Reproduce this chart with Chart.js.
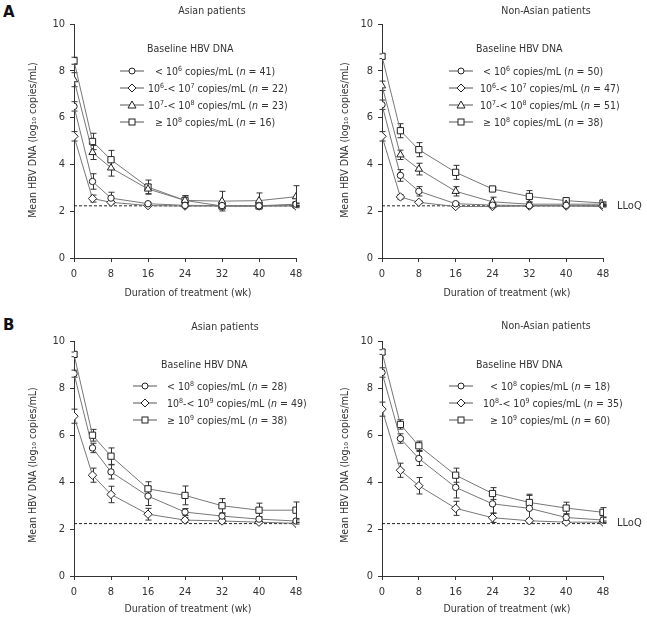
<!DOCTYPE html>
<html>
<head>
<meta charset="utf-8">
<script src="https://cdn.jsdelivr.net/npm/chart.js@4.4.1/dist/chart.umd.min.js"></script>
<style>
  body { margin: 0; background: #fff; }
  #fig { position: relative; width: 647px; height: 620px; background: #fff; overflow: hidden;
         font-family: "DejaVu Sans Condensed", "DejaVu Sans", sans-serif; color: #333; }
  #fig canvas { position: absolute; }
  .txt { position: absolute; white-space: nowrap; font-size: 10.5px; line-height: 12px; }
  .ctr { transform: translateX(-50%); }
  .ytitle { position: absolute; white-space: nowrap; font-size: 10.5px; line-height: 12px;
            transform: translate(-50%, -50%) rotate(-90deg); }
  .panel { position: absolute; font-weight: bold; font-size: 15px; color: #111;
           font-family: "DejaVu Sans", sans-serif; }
  .legend { position: absolute; font-size: 10.5px; }
  .legend .row { position: absolute; height: 14px; white-space: nowrap; }
  .legend svg { position: absolute; top: 1px; }
  .legend .lbl { position: absolute; top: 0; line-height: 14px; }
  sup { font-size: 7px; vertical-align: 4px; line-height: 0; }
</style>
</head>
<body>
<div id="fig">
  <div class="panel" style="left:3px;top:3px;">A</div>
  <div class="panel" style="left:3px;top:316px;">B</div>

  <canvas id="cA1" width="320" height="300" style="left:0;top:0;"></canvas>
  <canvas id="cA2" width="327" height="300" style="left:320px;top:0;"></canvas>
  <canvas id="cB1" width="320" height="320" style="left:0;top:300px;"></canvas>
  <canvas id="cB2" width="327" height="320" style="left:320px;top:300px;"></canvas>

  <div class="txt ctr" style="left:212px;top:4px;">Asian patients</div>
  <div class="txt ctr" style="left:546px;top:4px;">Non-Asian patients</div>
  <div class="txt ctr" style="left:225px;top:320px;">Asian patients</div>
  <div class="txt ctr" style="left:546px;top:319px;">Non-Asian patients</div>

  <div class="txt ctr" style="left:188px;top:286px;">Duration of treatment (wk)</div>
  <div class="txt ctr" style="left:507px;top:286px;">Duration of treatment (wk)</div>
  <div class="txt ctr" style="left:188px;top:602px;">Duration of treatment (wk)</div>
  <div class="txt ctr" style="left:507px;top:602px;">Duration of treatment (wk)</div>

  <div class="ytitle" style="left:32px;top:140px;">Mean HBV DNA (log₁₀ copies/mL)</div>
  <div class="ytitle" style="left:344px;top:140px;">Mean HBV DNA (log₁₀ copies/mL)</div>
  <div class="ytitle" style="left:32px;top:465px;">Mean HBV DNA (log₁₀ copies/mL)</div>
  <div class="ytitle" style="left:344px;top:465px;">Mean HBV DNA (log₁₀ copies/mL)</div>

  <div class="txt" style="left:147px;top:42px;">Baseline HBV DNA</div>
  <div class="txt" style="left:476px;top:42px;">Baseline HBV DNA</div>
  <div class="txt" style="left:161px;top:358px;">Baseline HBV DNA</div>
  <div class="txt" style="left:476px;top:358px;">Baseline HBV DNA</div>

  <div class="legend" id="legA1"></div>
  <div class="legend" id="legA2"></div>
  <div class="legend" id="legB1"></div>
  <div class="legend" id="legB2"></div>
</div>

<script>
// x values: weeks of treatment
const weeks = [0, 4, 8, 16, 24, 32, 40, 48];
const xTicks = [0, 8, 16, 24, 32, 40, 48];
const yTicks = [0, 2, 4, 6, 8, 10];
const lloq = 2.23;

// A, Asian patients
const aAsianLt6 = [6.48, 3.27, 2.56, 2.32, 2.25, 2.24, 2.23, 2.30];
const aAsianLt6Err = [0.2, 0.33, 0.25, 0.05, 0.05, 0.05, 0.05, 0.05];
const aAsian6to7 = [5.20, 2.54, 2.38, 2.24, 2.22, 2.22, 2.22, 2.22];
const aAsian6to7Err = [0.2, 0.15, 0.05, 0.02, 0.02, 0.02, 0.02, 0.02];
const aAsian7to8 = [7.62, 4.51, 3.85, 2.95, 2.46, 2.43, 2.45, 2.62];
const aAsian7to8Err = [0.3, 0.3, 0.35, 0.2, 0.2, 0.42, 0.33, 0.47];
const aAsianGe8 = [8.43, 4.98, 4.20, 3.03, 2.46, 2.22, 2.22, 2.27];
const aAsianGe8Err = [0.15, 0.35, 0.4, 0.3, 0.2, 0.1, 0.05, 0.05];

// A, non-Asian patients
const aNonLt6 = [6.55, 3.53, 2.85, 2.32, 2.26, 2.24, 2.25, 2.25];
const aNonLt6Err = [0.2, 0.25, 0.2, 0.05, 0.03, 0.03, 0.03, 0.03];
const aNon6to7 = [5.20, 2.61, 2.38, 2.20, 2.20, 2.22, 2.22, 2.20];
const aNon6to7Err = [0.2, 0.1, 0.05, 0.03, 0.02, 0.02, 0.02, 0.02];
const aNon7to8 = [7.36, 4.41, 3.80, 2.85, 2.40, 2.30, 2.30, 2.30];
const aNon7to8Err = [0.2, 0.2, 0.25, 0.2, 0.2, 0.1, 0.05, 0.05];
const aNonGe8 = [8.62, 5.44, 4.63, 3.66, 2.95, 2.63, 2.45, 2.35];
const aNonGe8Err = [0.1, 0.3, 0.3, 0.3, 0.05, 0.25, 0.1, 0.05];

// B, Asian patients
const bAsianLt8 = [8.61, 5.45, 4.43, 3.40, 2.72, 2.55, 2.42, 2.34];
const bAsianLt8Err = [0.15, 0.2, 0.3, 0.4, 0.15, 0.1, 0.1, 0.05];
const bAsian8to9 = [6.80, 4.29, 3.47, 2.63, 2.38, 2.34, 2.29, 2.24];
const bAsian8to9Err = [0.3, 0.3, 0.35, 0.25, 0.1, 0.05, 0.05, 0.03];
const bAsianGe9 = [9.43, 5.99, 5.10, 3.71, 3.43, 2.99, 2.80, 2.80];
const bAsianGe9Err = [0.1, 0.25, 0.35, 0.3, 0.4, 0.3, 0.3, 0.35];

// B, non-Asian patients
const bNonLt8 = [8.66, 5.85, 5.00, 3.77, 3.07, 2.88, 2.49, 2.38];
const bNonLt8Err = [0.2, 0.2, 0.3, 0.45, 0.4, 0.6, 0.15, 0.1];
const bNon8to9 = [7.10, 4.50, 3.84, 2.88, 2.48, 2.35, 2.29, 2.29];
const bNon8to9Err = [0.3, 0.3, 0.35, 0.3, 0.2, 0.1, 0.05, 0.05];
const bNonGe9 = [9.53, 6.45, 5.54, 4.29, 3.51, 3.13, 2.89, 2.71];
const bNonGe9Err = [0.1, 0.2, 0.2, 0.3, 0.25, 0.3, 0.25, 0.2];

const FONT = '"DejaVu Sans Condensed", "DejaVu Sans", sans-serif';
const LINE = '#777';
const MARK = '#222';

const styles = {
  circle:   { pointStyle: 'circle',   radius: 3.2 },
  rectRot:  { pointStyle: 'rectRot',  radius: 4.2 },
  triangle: { pointStyle: 'triangle', radius: 4.2 },
  rect:     { pointStyle: 'rect',     radius: 4.4 }
};

function series(vals, errs, shape) {
  const s = styles[shape];
  return {
    data: weeks.map((w, i) => ({ x: w, y: vals[i] })),
    errors: errs,
    borderColor: LINE,
    borderWidth: 1,
    pointStyle: s.pointStyle,
    pointRadius: s.radius,
    pointBackgroundColor: '#fff',
    pointBorderColor: MARK,
    pointBorderWidth: 1,
    tension: 0
  };
}

function lloqLine() {
  return {
    data: [{ x: 0, y: lloq }, { x: 48, y: lloq }],
    borderColor: '#222',
    borderWidth: 1,
    borderDash: [3, 2],
    pointRadius: 0,
    order: 10
  };
}

// whiskers drawn under the markers
const errorBars = {
  id: 'errorBars',
  beforeDatasetsDraw(chart) {
    const { ctx, scales: { x, y } } = chart;
    ctx.save();
    ctx.strokeStyle = '#333';
    ctx.lineWidth = 1;
    chart.data.datasets.forEach(ds => {
      if (!ds.errors) return;
      ds.data.forEach((pt, j) => {
        const e = ds.errors[j];
        if (!e) return;
        const px = Math.round(x.getPixelForValue(pt.x)) + 0.5;
        const top = y.getPixelForValue(pt.y + e);
        const bot = y.getPixelForValue(pt.y - e);
        ctx.beginPath();
        ctx.moveTo(px, top); ctx.lineTo(px, bot);
        ctx.moveTo(px - 3, top); ctx.lineTo(px + 3, top);
        ctx.moveTo(px - 3, bot); ctx.lineTo(px + 3, bot);
        ctx.stroke();
      });
    });
    ctx.restore();
  }
};

const lloqLabel = {
  id: 'lloqLabel',
  afterDraw(chart) {
    if (!chart.options.plugins.lloqLabel.show) return;
    const { ctx, chartArea, scales: { y } } = chart;
    ctx.save();
    ctx.font = '11px ' + FONT;
    ctx.fillStyle = '#333';
    ctx.textBaseline = 'middle';
    ctx.fillText('LLoQ', chartArea.right + 14, y.getPixelForValue(lloq));
    ctx.restore();
  }
};

function makeChart(id, datasets, area, showLloq) {
  const cv = document.getElementById(id);
  return new Chart(cv, {
    type: 'line',
    data: { datasets: datasets.concat([lloqLine()]) },
    options: {
      responsive: false,
      animation: false,
      layout: { padding: { left: 0, top: area.top, right: cv.width - area.right, bottom: 0 } },
      plugins: { legend: { display: false }, tooltip: { enabled: false }, lloqLabel: { show: showLloq } },
      scales: {
        x: {
          type: 'linear', min: 0, max: 48,
          afterBuildTicks: s => { s.ticks = xTicks.map(v => ({ value: v })); },
          afterFit: s => { s.height = cv.height - area.bottom; },
          grid: { drawOnChartArea: false, tickLength: 4, color: '#333' },
          border: { color: '#333' },
          ticks: { color: '#333', padding: 6, font: { family: FONT, size: 11 } }
        },
        y: {
          min: 0, max: 10,
          afterBuildTicks: s => { s.ticks = yTicks.map(v => ({ value: v })); },
          afterFit: s => { s.width = area.left; },
          grid: { drawOnChartArea: false, tickLength: 4, color: '#333' },
          border: { color: '#333' },
          ticks: { color: '#333', padding: 5, font: { family: FONT, size: 11 } }
        }
      }
    },
    plugins: [errorBars, lloqLabel]
  });
}

makeChart('cA1', [
  series(aAsianLt6, aAsianLt6Err, 'circle'),
  series(aAsian6to7, aAsian6to7Err, 'rectRot'),
  series(aAsian7to8, aAsian7to8Err, 'triangle'),
  series(aAsianGe8, aAsianGe8Err, 'rect')
], { left: 74, right: 296, top: 24, bottom: 258 }, false);

makeChart('cA2', [
  series(aNonLt6, aNonLt6Err, 'circle'),
  series(aNon6to7, aNon6to7Err, 'rectRot'),
  series(aNon7to8, aNon7to8Err, 'triangle'),
  series(aNonGe8, aNonGe8Err, 'rect')
], { left: 62, right: 283, top: 24, bottom: 258 }, true);

makeChart('cB1', [
  series(bAsianLt8, bAsianLt8Err, 'circle'),
  series(bAsian8to9, bAsian8to9Err, 'rectRot'),
  series(bAsianGe9, bAsianGe9Err, 'rect')
], { left: 74, right: 296, top: 41, bottom: 276 }, false);

makeChart('cB2', [
  series(bNonLt8, bNonLt8Err, 'circle'),
  series(bNon8to9, bNon8to9Err, 'rectRot'),
  series(bNonGe9, bNonGe9Err, 'rect')
], { left: 62, right: 283, top: 41, bottom: 276 }, true);

// legends (HTML so the superscripts stay real text)
const icons = {
  circle: '<circle cx="12" cy="6" r="3" fill="#fff" stroke="#222"/>',
  rectRot: '<path d="M12 2 L16 6 L12 10 L8 6 Z" fill="#fff" stroke="#222"/>',
  triangle: '<path d="M12 2 L16 9 L8 9 Z" fill="#fff" stroke="#222"/>',
  rect: '<rect x="9" y="3" width="6" height="6" fill="#fff" stroke="#222"/>'
};

function legend(id, x, y, iconX, textX, rows) {
  const el = document.getElementById(id);
  el.style.left = x + 'px';
  el.style.top = y + 'px';
  el.innerHTML = rows.map((r, i) =>
    '<div class="row" style="top:' + (i * 17) + 'px;left:0;">' +
    '<svg width="24" height="12" style="left:' + iconX + 'px;"><line x1="0" y1="6" x2="24" y2="6" stroke="#555"/>' + icons[r.shape] + '</svg>' +
    '<span class="lbl" style="left:' + (textX + (r.indent || 0)) + 'px;">' + r.html + '</span></div>'
  ).join('');
}

legend('legA1', 0, 64, 120, 148, [
  { shape: 'circle', indent: 7, html: '&lt; 10<sup>6</sup> copies/mL (<i>n</i> = 41)' },
  { shape: 'rectRot', html: '10<sup>6</sup>-&lt; 10<sup>7</sup> copies/mL (<i>n</i> = 22)' },
  { shape: 'triangle', html: '10<sup>7</sup>-&lt; 10<sup>8</sup> copies/mL (<i>n</i> = 23)' },
  { shape: 'rect', indent: 7, html: '≥ 10<sup>8</sup> copies/mL (<i>n</i> = 16)' }
]);
legend('legA2', 320, 64, 129, 160, [
  { shape: 'circle', indent: 3, html: '&lt; 10<sup>6</sup> copies/mL (<i>n</i> = 50)' },
  { shape: 'rectRot', html: '10<sup>6</sup>-&lt; 10<sup>7</sup> copies/mL (<i>n</i> = 47)' },
  { shape: 'triangle', html: '10<sup>7</sup>-&lt; 10<sup>8</sup> copies/mL (<i>n</i> = 51)' },
  { shape: 'rect', indent: 3, html: '≥ 10<sup>8</sup> copies/mL (<i>n</i> = 38)' }
]);
legend('legB1', 0, 379, 133, 167, [
  { shape: 'circle', html: '&lt; 10<sup>8</sup> copies/mL (<i>n</i> = 28)' },
  { shape: 'rectRot', html: '10<sup>8</sup>-&lt; 10<sup>9</sup> copies/mL (<i>n</i> = 49)' },
  { shape: 'rect', html: '≥ 10<sup>9</sup> copies/mL (<i>n</i> = 38)' }
]);
legend('legB2', 320, 379, 129, 163, [
  { shape: 'circle', indent: 7, html: '&lt; 10<sup>8</sup> copies/mL (<i>n</i> = 18)' },
  { shape: 'rectRot', html: '10<sup>8</sup>-&lt; 10<sup>9</sup> copies/mL (<i>n</i> = 35)' },
  { shape: 'rect', indent: 7, html: '≥ 10<sup>9</sup> copies/mL (<i>n</i> = 60)' }
]);
</script>
</body>
</html>
